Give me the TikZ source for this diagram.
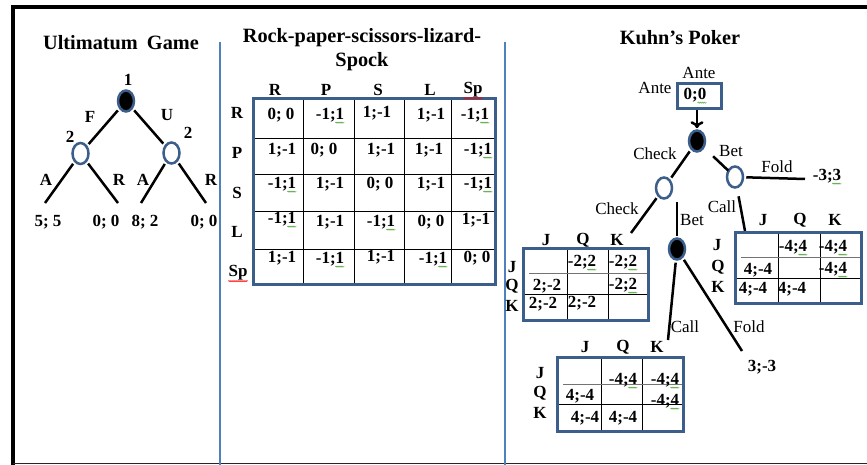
\documentclass[tikz,border=0pt]{standalone}
\usepackage{fontspec}
\setmainfont{Liberation Serif}
\usepackage{tikz}
\usetikzlibrary{shapes.geometric,arrows.meta,decorations.pathmorphing}

\definecolor{nodeblue}{RGB}{60,94,138}
\definecolor{sepblue}{RGB}{79,129,189}
\definecolor{spellgreen}{RGB}{90,170,70}

\tikzset{
    lbl/.style={font=\fontsize{17}{17}\selectfont\bfseries, inner sep=0pt},
    act/.style={font=\fontsize{17}{17}\selectfont, inner sep=0pt},
    ttl/.style={font=\fontsize{20.3}{24}\selectfont\bfseries, inner sep=0pt, align=center},
    opennode/.style={ellipse, draw=nodeblue, line width=2.5pt, minimum width=16pt, minimum height=21pt, inner sep=0pt},
    fullnode/.style={opennode, fill=black},
    edge/.style={line width=2.5pt, shorten <=2pt, shorten >=2pt},
    tblbox/.style={draw=nodeblue, line width=3pt},
    cellline/.style={line width=1pt},
    softline/.style={line width=1pt, black!55},
    sepline/.style={draw=sepblue, line width=2.5pt},
    squig/.style={spellgreen, line width=0.6pt, decorate, decoration={snake, amplitude=0.6pt, segment length=2pt}}
}

\begin{document}
\begin{tikzpicture}[x=1pt, y=-1pt]
        \useasboundingbox (0,0) rectangle (867,465);

        % frame and separators
        \draw[line width=4pt] (13,465) -- (13,7.5) -- (867,7.5);
        \draw[line width=1.5pt, black!85] (13,463.5) -- (867,463.5);
        \draw[sepline] (220,42) -- (220,465);
        \draw[sepline] (505,42) -- (505,465);

        % ultimatum game
        \node[ttl] (ugtitle) at (121,43) {Ultimatum\hspace{0.45em}Game};
        \node[fullnode] (u1) at (126,101) {};
        \node[opennode] (u2) at (80.5,153.5) {};
        \node[opennode] (u3) at (171.5,153) {};
        \coordinate (ua1) at (45,203);
        \coordinate (ur1) at (118,203);
        \coordinate (ua2) at (141,203);
        \coordinate (ur2) at (206,203);
        \draw[edge] (u1) -- (u2);
        \draw[edge] (u1) -- (u3);
        \draw[edge, shorten >=0pt] (u2) -- (ua1);
        \draw[edge, shorten >=0pt] (u2) -- (ur1);
        \draw[edge, shorten >=0pt] (u3) -- (ua2);
        \draw[edge, shorten >=0pt] (u3) -- (ur2);
        \node[lbl] (ul1) at (128,80) {1};
        \node[lbl] (ul2) at (70,137) {2};
        \node[lbl] (ul3) at (188,133) {2};
        \node[lbl] (ulf) at (90,117) {F};
        \node[lbl] (ulu) at (167,115) {U};
        \node[lbl] (ula1) at (46,180) {A};
        \node[lbl] (ulr1) at (119,180) {R};
        \node[lbl] (ula2) at (143,180) {A};
        \node[lbl] (ulr2) at (211,180) {R};
        \node[lbl] (up1) at (48,222) {5; 5};
        \node[lbl] (up2) at (106,222) {0; 0};
        \node[lbl] (up3) at (145,222) {8; 2};
        \node[lbl] (up4) at (204,222) {0; 0};

        % rock-paper-scissors-lizard-spock
        \node[ttl] (rptitle) at (362,50) {Rock-paper-scissors-lizard-\\Spock};
        \draw[cellline] (303,99) -- (303,284) (354,99) -- (354,284)
            (404,99) -- (404,284) (451,99) -- (451,284);
        \draw[cellline] (253,139) -- (495,139) (253,175) -- (495,175)
            (253,212) -- (495,212) (253,249) -- (495,249);
        \draw[tblbox] (253,99) rectangle (495,284);
        \node[lbl] (hr) at (275,90) {R};
        \node[lbl] (hp) at (326,90) {P};
        \node[lbl] (hs) at (378,90) {S};
        \node[lbl] (hl) at (430,90) {L};
        \node[lbl] (hsp) at (473,90) {Sp};
        \node[lbl] (vr) at (237,113) {R};
        \node[lbl] (vp) at (237,153) {P};
        \node[lbl] (vs) at (237,193) {S};
        \node[lbl] (vl) at (237,232) {L};
        \node[lbl] (vsp) at (238,273) {Sp};
        \node[lbl] (c11) at (281,115) {0; 0};
        \node[lbl] (c12) at (330,115) {-1;1};
        \node[lbl] (c13) at (377,113) {1;-1};
        \node[lbl] (c14) at (431,115) {1;-1};
        \node[lbl] (c15) at (475,115) {-1;1};
        \node[lbl] (c21) at (282,150) {1;-1};
        \node[lbl] (c22) at (324,150) {0; 0};
        \node[lbl] (c23) at (381,150) {1;-1};
        \node[lbl] (c24) at (429,150) {1;-1};
        \node[lbl] (c25) at (478,150) {-1;1};
        \node[lbl] (c31) at (282,184) {-1;1};
        \node[lbl] (c32) at (330,184) {1;-1};
        \node[lbl] (c33) at (380,184) {0; 0};
        \node[lbl] (c34) at (431,184) {1;-1};
        \node[lbl] (c35) at (478,184) {-1;1};
        \node[lbl] (c41) at (282,219) {-1;1};
        \node[lbl] (c42) at (330,222) {1;-1};
        \node[lbl] (c43) at (381,222) {-1;1};
        \node[lbl] (c44) at (431,222) {0; 0};
        \node[lbl] (c45) at (476,220) {1;-1};
        \node[lbl] (c51) at (282,258) {1;-1};
        \node[lbl] (c52) at (330,259) {-1;1};
        \node[lbl] (c53) at (381,257) {1;-1};
        \node[lbl] (c54) at (433,259) {-1;1};
        \node[lbl] (c55) at (477,258) {0; 0};

        % kuhn's poker tree
        \node[ttl] (kptitle) at (680,38) {Kuhn’s Poker};
        \node[act] (ante1) at (699,73) {Ante};
        \node[act] (ante2) at (655,88) {Ante};
        \node[draw=nodeblue, line width=3pt, minimum width=44pt, minimum height=25pt] (ante) at (699,96) {};
        \node[lbl] (antev) at (695,95) {0;0};
        \node[fullnode] (k1) at (697,141) {};
        \node[opennode] (k2) at (664,188) {};
        \node[opennode] (k3) at (735,177) {};
        \node[fullnode] (k4) at (677,249) {};
        \coordinate (kcc) at (631,233);
        \coordinate (kcall) at (745,231);
        \coordinate (kfold) at (805,179);
        \coordinate (kcall2) at (668,340);
        \coordinate (kfold2) at (742,351);
        \draw[line width=2.5pt, -{To[length=7pt, width=13pt, line width=2.5pt]}, shorten >=1pt]
            (ante.south -| k1) -- (k1.north);
        \draw[edge] (k1) -- (k2);
        \draw[edge, shorten <=12pt, shorten >=-1pt] (k1) -- (k3);
        \draw[edge, shorten >=0pt] (k2) -- (kcc);
        \draw[edge, shorten >=1pt] (k2.south -| k4) -- (k4.north);
        \draw[edge, shorten <=8pt, shorten >=0pt] (k3) -- (kcall);
        \draw[edge, shorten >=0pt] (k3) -- (kfold);
        \draw[edge, shorten >=0pt] (k4) -- (kcall2);
        \draw[edge, shorten >=0pt] (k4) -- (kfold2);
        \node[act] (kl1) at (655,154) {Check};
        \node[act] (kl2) at (731,151) {Bet};
        \node[act] (kl3) at (777,167) {Fold};
        \node[lbl] (kp1) at (827,176) {-3;3};
        \node[act] (kl4) at (617,209) {Check};
        \node[act] (kl5) at (692,220) {Bet};
        \node[act] (kl6) at (722,207) {Call};
        \node[act] (kl7) at (685,327) {Call};
        \node[act] (kl8) at (749,327) {Fold};
        \node[lbl] (kp2) at (762,367) {3;-3};

        % check - check table
        \draw[cellline] (567,248) -- (567,320) (608,248) -- (608,320) (523,294) -- (648,294);
        \draw[softline] (529,273) -- (648,273);
        \draw[tblbox] (523,248) rectangle (648,320);
        \node[lbl] (ccj) at (546,240) {J};
        \node[lbl] (ccq) at (583,240) {Q};
        \node[lbl] (cck) at (617,240) {K};
        \node[lbl] (ccrj) at (512,267) {J};
        \node[lbl] (ccrq) at (512,286) {Q};
        \node[lbl] (ccrk) at (512,306) {K};
        \node[lbl] (cc12) at (582,262) {-2;2};
        \node[lbl] (cc13) at (623,262) {-2;2};
        \node[lbl] (cc21) at (547,286) {2;-2};
        \node[lbl] (cc23) at (623,285) {-2;2};
        \node[lbl] (cc31) at (543,304) {2;-2};
        \node[lbl] (cc32) at (582,303) {2;-2};

        % bet - call table
        \draw[cellline] (778,232) -- (778,303) (820,232) -- (820,303) (735,278) -- (861,278);
        \draw[softline] (741,257) -- (861,257);
        \draw[tblbox] (735,232) rectangle (861,303);
        \node[lbl] (baj) at (763,220) {J};
        \node[lbl] (baq) at (800,220) {Q};
        \node[lbl] (bak) at (835,220) {K};
        \node[lbl] (barj) at (717,245) {J};
        \node[lbl] (barq) at (718,267) {Q};
        \node[lbl] (bark) at (718,287) {K};
        \node[lbl] (ba12) at (793,247) {-4;4};
        \node[lbl] (ba13) at (833,247) {-4;4};
        \node[lbl] (ba21) at (758,270) {4;-4};
        \node[lbl] (ba23) at (833,269) {-4;4};
        \node[lbl] (ba31) at (753,289) {4;-4};
        \node[lbl] (ba32) at (792,289) {4;-4};

        % check - bet - call table
        \draw[cellline] (601,357) -- (601,431) (642,357) -- (642,431) (557,404) -- (683,404);
        \draw[softline] (563,384) -- (683,384);
        \draw[tblbox] (557,357) rectangle (683,431);
        \node[lbl] (cbj) at (585,347) {J};
        \node[lbl] (cbq) at (623,347) {Q};
        \node[lbl] (cbk) at (657,347) {K};
        \node[lbl] (cbrj) at (540,373) {J};
        \node[lbl] (cbrq) at (540,393) {Q};
        \node[lbl] (cbrk) at (540,413) {K};
        \node[lbl] (cb12) at (623,380) {-4;4};
        \node[lbl] (cb13) at (665,380) {-4;4};
        \node[lbl] (cb21) at (580,396) {4;-4};
        \node[lbl] (cb23) at (665,401) {-4;4};
        \node[lbl] (cb31) at (585,418) {4;-4};
        \node[lbl] (cb32) at (623,418) {4;-4};

        % spell-check marks
        \foreach \n in {c12,c15,c25,c31,c35,c41,c43,c52,c54,antev,kp1,cc12,cc13,cc23,ba12,ba13,ba23,cb12,cb13,cb23}
            \draw[squig] ([xshift=-9pt,yshift=-0.5pt]\n.south east) -- ([yshift=-0.5pt]\n.south east);
        \foreach \n in {hsp,vsp}
            \draw[squig, red] ([yshift=-0.5pt]\n.south west) -- ([yshift=-0.5pt]\n.south east);
\end{tikzpicture}
\end{document}
